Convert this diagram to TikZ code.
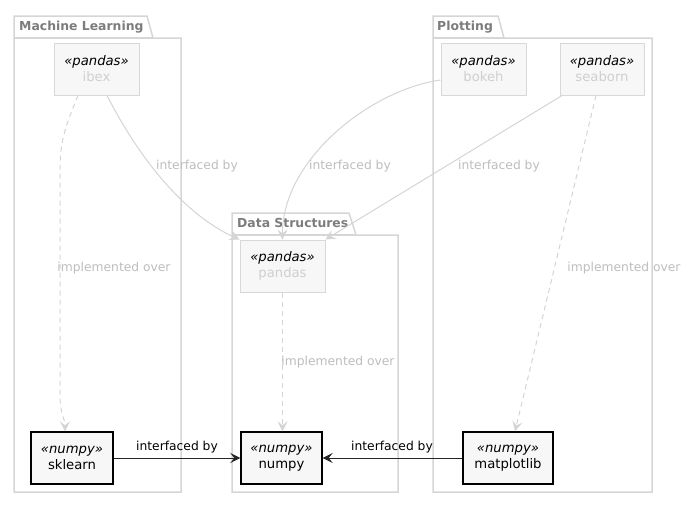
\documentclass[tikz,border=0pt]{standalone}
\usepackage{fontspec}
\setmainfont{DejaVu Sans}
\usetikzlibrary{arrows.meta}
\definecolor{pkgline}{HTML}{D6D6D6}
\definecolor{pkgtext}{HTML}{7C7C7C}
\definecolor{nodefill}{HTML}{F7F7F7}
\definecolor{nodeline}{HTML}{D8D8D8}
\definecolor{fadetext}{HTML}{CFCFCF}
\definecolor{edgegray}{HTML}{D4D4D4}
\definecolor{labelgray}{HTML}{BDBDBD}
\tikzset{
  pkg/.style={draw=pkgline, line width=1.5pt},
  pkgtitle/.style={anchor=west, inner sep=0pt, text=pkgtext, font=\fontsize{12.4}{14}\selectfont\bfseries},
  faded/.style={draw=nodeline, fill=nodefill, line width=1pt, minimum height=52pt, inner sep=0pt, align=center, font=\fontsize{13.2}{16}\selectfont},
  active/.style={draw=black, fill=nodefill, line width=1.4pt, minimum height=52pt, inner sep=0pt, align=center, font=\fontsize{13.2}{15.5}\selectfont},
  gedge/.style={draw=edgegray, line width=1pt, -{Stealth[length=10pt,width=10pt,inset=4pt]}},
  gdash/.style={gedge, dash pattern=on 5pt off 4pt},
  bedge/.style={draw=black!85, line width=1pt, -{Stealth[length=10pt,width=10pt,inset=4pt]}},
  glabel/.style={inner sep=0pt, text=labelgray, font=\fontsize{12.3}{14}\selectfont},
  blabel/.style={inner sep=0pt, text=black, font=\fontsize{12.3}{14}\selectfont},
}
\begin{document}
\begin{tikzpicture}[x=1pt,y=-1pt]
\useasboundingbox (0,0) rectangle (692,504);
% packages
\draw[pkg] (14,492) -- (14,16) -- (147,16) -- (153,38) -- (181,38) -- (181,492) -- cycle;
\draw[pkg] (14,38) -- (153,38);
\node[pkgtitle] (tml) at (19,27) {Machine Learning};
\draw[pkg] (433,492) -- (433,16) -- (498,16) -- (504,38) -- (652,38) -- (652,492) -- cycle;
\draw[pkg] (433,38) -- (504,38);
\node[pkgtitle] (tpl) at (437,27) {Plotting};
\draw[pkg] (232,492) -- (232,213) -- (349,213) -- (356,235) -- (398,235) -- (398,492) -- cycle;
\draw[pkg] (232,235) -- (356,235);
\node[pkgtitle] (tds) at (237,223) {Data Structures};
% nodes
\node[faded, minimum width=85pt] (ibex) at (96.5,69) {\itshape «pandas»\\\color{fadetext}ibex};
\node[faded, minimum width=85pt] (bokeh) at (483.5,69) {\itshape «pandas»\\\color{fadetext}bokeh};
\node[faded, minimum width=84pt] (seaborn) at (602,69) {\itshape «pandas»\\\color{fadetext}seaborn};
\node[faded, minimum width=85pt] (pandas) at (282.5,266) {\itshape «pandas»\\\color{fadetext}pandas};
\node[active, minimum width=82pt] (sklearn) at (72,458) {\itshape «numpy»\\sklearn};
\node[active, minimum width=81pt] (numpy) at (281.5,458) {\itshape «numpy»\\numpy};
\node[active, minimum width=90pt] (matplotlib) at (508,458) {\itshape «numpy»\\matplotlib};
% edges
\draw[gdash] ([xshift=-18.5pt]ibex.south) .. controls (66,125) and (60,140) .. (60,170) -- (60,395) .. controls (60,415) and (65,418) .. ([xshift=-7pt]sklearn.north);
\draw[gedge] ([xshift=10.5pt]ibex.south) .. controls (140,160) and (185,215) .. (pandas.north west);
\draw[gedge] ([yshift=-11pt]bokeh.west) .. controls (370,90) and (282,160) .. (pandas.north);
\draw[gedge] ([xshift=-40pt]seaborn.south) -- (pandas.north east);
\draw[gdash] ([xshift=-6pt]seaborn.south) -- ([xshift=7pt]matplotlib.north);
\draw[gdash] (pandas.south) -- (pandas.south |- numpy.north);
\draw[bedge] (sklearn.east) -- (numpy.west);
\draw[bedge] (matplotlib.west) -- (numpy.east);
% labels
\node[glabel] (l1) at (114,268) {implemented over};
\node[glabel] (l2) at (197,166) {interfaced by};
\node[glabel] (l3) at (350,166) {interfaced by};
\node[glabel] (l4) at (499,166) {interfaced by};
\node[glabel] (l5) at (624,268) {implemented over};
\node[glabel] (l6) at (338,362) {implemented over};
\node[blabel] (l7) at (177,447) {interfaced by};
\node[blabel] (l8) at (392,447) {interfaced by};
\end{tikzpicture}
\end{document}
